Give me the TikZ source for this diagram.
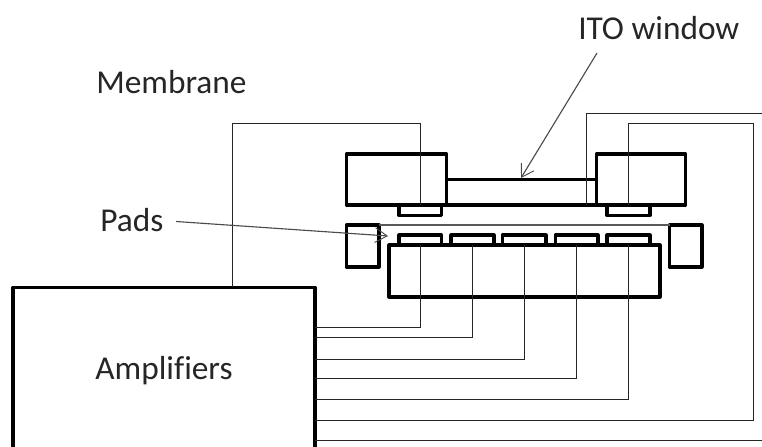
\documentclass[tikz,border=0pt]{standalone}
\usepackage{fontspec}
\setmainfont[Ligatures=NoCommon]{Carlito}
\usetikzlibrary{arrows.meta}
\newcommand{\boxnode}[6][]{\node[heavybox,#1,minimum width={(#5-#3)*0.75pt},minimum height={(#6-#4)*0.75pt}] (#2) at ({(#3+#5)/2},{(#4+#6)/2}) {};}
\tikzset{
  heavybox/.style={draw=black,line width=2.4pt,inner sep=0pt,outer sep=0pt,line join=round},
  padbox/.style={line width=2.3pt},
  wire/.style={draw=black!85,line width=0.85pt},
  pointer/.style={draw=black!70,line width=0.85pt,-{Straight Barb[length=9pt,width=11pt,line width=0.7pt]}},
  label/.style={font=\fontsize{25}{29}\selectfont,text=black!85,inner sep=0pt},
}
\begin{document}
\begin{tikzpicture}[x=0.75pt,y=-0.75pt]
\clip (0,0) rectangle (762,446);
\fill[white] (0,0) rectangle (762,446);
% upper assembly
\boxnode{lblock}{346.5}{154}{446.5}{205}
\boxnode{rblock}{596.5}{154}{685.5}{205}
\boxnode{window}{446.5}{179.5}{596.5}{205}
\boxnode[padbox]{upl}{399}{205}{441.5}{215.5}
\boxnode[padbox]{upr}{607}{205}{650}{215.5}
% side blocks
\boxnode{sidel}{346.5}{225}{379}{267}
\boxnode{sider}{669.5}{225}{702}{267}
% lower pads and base
\boxnode{base}{389}{245}{660}{297}
\boxnode[padbox]{pa}{399}{235}{441.5}{245}
\boxnode[padbox]{pb}{451}{235}{494}{245}
\boxnode[padbox]{pc}{502.5}{235}{546}{245}
\boxnode[padbox]{pd}{555.5}{235}{598}{245}
\boxnode[padbox]{pe}{607}{235}{650}{245}
% amplifier (bottom edge falls below the picture)
\node[heavybox,label,minimum width={302*0.75pt},minimum height={166.4*0.75pt}] (amp) at (164,370.5) {Amplifiers};
% edge coordinates
\coordinate (edgeA) at (762,113.5);
\coordinate (edgeB) at (762,440.5);
% thin line between side blocks
\draw[draw=black!65,line width=0.8pt] (sidel.north east) -- (sider.north west);
% wires
\path[wire] (232.5,0 |- amp.north) |- (420.2,123.5) -- (420.2,0 |- lblock.south);
\path[wire] (amp.east |- 0,327.5) -| (pa.south);
\path[wire] (amp.east |- 0,337.5) -| (pb.south);
\path[wire] (amp.east |- 0,359.5) -| (pc.south);
\path[wire] (amp.east |- 0,378.5) -| (pd.south);
\path[wire] (amp.east |- 0,399.5) -| (pe.south);
\path[wire] (amp.east |- 0,420.5) -| (753.5,123.5) -| (upr.north);
\path[wire] (amp.east |- edgeB) -- (edgeB);
\path[wire] (edgeA) -| (586.5,0 |- rblock.south);
% labels
\node[label,anchor=base west] (ito) at (578,39.5) {ITO window};
\node[label,anchor=base west] (mem) at (96,93.5) {Membrane};
\node[label,anchor=base west] (padlabel) at (100,231) {Pads};
% pointers
\coordinate (itostart) at (597,53);
\coordinate (itotip) at (521,178);
\coordinate (padstart) at (176,221.5);
\coordinate (padtip) at (388,236);
\draw[pointer] (itostart) -- (itotip);
\draw[pointer] (padstart) -- (padtip);
\end{tikzpicture}
\end{document}
